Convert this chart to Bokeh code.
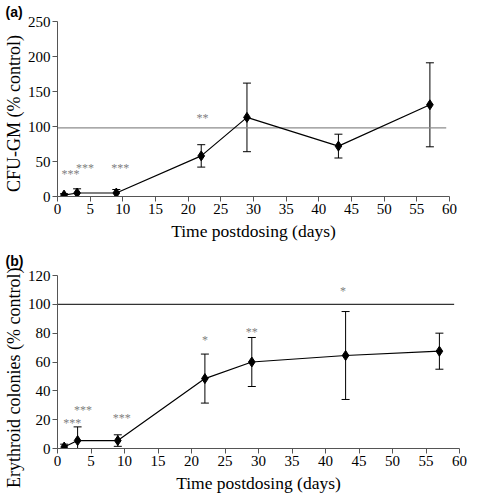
from bokeh.plotting import figure
from bokeh.layouts import column
from bokeh.models import ColumnDataSource, Whisker, TeeHead, Range1d, FixedTicker
from bokeh.embed import file_html
from bokeh.resources import INLINE

# ---- data ----
days = [1, 3, 9, 22, 29, 43, 57]
cfu_mean = [2, 5, 5, 58, 113, 72, 131]
cfu_err = [2, 6, 5, 16, 49, 17, 60]
ery_mean = [1, 5.5, 5.5, 48.5, 60, 64.5, 67.5]
ery_err = [2, 9.5, 4, 17, 17, 30.5, 12.5]

stars_a_x = [2.0, 4.2, 9.6, 22.2]
stars_a_y = [36, 45, 45, 117]
stars_a_txt = ["***", "***", "***", "**"]

stars_b_x = [2.2, 3.8, 9.6, 22.0, 29.0, 42.6]
stars_b_y = [20, 29, 23, 77, 83, 111]
stars_b_txt = ["***", "***", "***", "*", "**", "*"]

control_a_x = [0, 59.5]
control_a_y = [98, 98]
control_b_x = [0, 59.2]
control_b_y = [100, 100]

x_ticks = list(range(0, 61, 5))
ya_ticks = [0, 50, 100, 150, 200, 250]
yb_ticks = [0, 20, 40, 60, 80, 100, 120]

FONT = "Liberation Serif"
NB = "\u00a0"


def style(p, yticks):
    p.xgrid.grid_line_color = None
    p.ygrid.grid_line_color = None
    p.outline_line_color = None
    p.background_fill_color = "white"
    p.border_fill_color = "white"
    p.xaxis.ticker = FixedTicker(ticks=x_ticks)
    p.yaxis.ticker = FixedTicker(ticks=yticks)
    for ax in (p.xaxis, p.yaxis):
        ax.axis_line_color = "#555555"
        ax.major_tick_line_color = "#555555"
        ax.minor_tick_line_color = None
        ax.major_tick_in = 0
        ax.major_tick_out = 5
        ax.major_label_text_font = FONT
        ax.major_label_text_font_size = "15px"
        ax.major_label_text_color = "black"
        ax.axis_label_text_font = FONT
        ax.axis_label_text_font_size = "17.5px"
        ax.axis_label_text_font_style = "normal"
        ax.axis_label_text_color = "black"
        ax.major_label_standoff = 2
        ax.axis_label_standoff = 1


def panel(mean, err, sx, sy, st, cx, cy, cc, yr, yticks, ylabel, tag, tag_standoff,
          xlab_standoff, fw, fh, mt, mb, mr):
    p = figure(frame_width=fw, frame_height=fh, output_backend="svg", toolbar_location=None,
               x_range=Range1d(0, 60), y_range=Range1d(*yr),
               min_border_left=52, min_border_right=mr, min_border_top=mt, min_border_bottom=mb,
               x_axis_label="Time postdosing (days)", y_axis_label=ylabel, title=tag)
    style(p, yticks)
    p.yaxis.axis_label_text_font_size = "18px"
    p.xaxis.axis_label_standoff = xlab_standoff
    p.title.align = "left"
    p.title.offset = -52
    p.title.standoff = tag_standoff
    p.title.text_font = "Liberation Sans"
    p.title.text_font_style = "bold"
    p.title.text_font_size = "14px"
    p.title.text_color = "black"
    p.line(cx, cy, line_color=cc, line_width=1.3)
    src = ColumnDataSource(dict(x=days, y=mean,
                                upper=[m + e for m, e in zip(mean, err)],
                                lower=[m - e for m, e in zip(mean, err)]))
    w = Whisker(source=src, base="x", upper="upper", lower="lower", dimension="height",
                line_color="black", line_width=1,
                upper_head=TeeHead(size=8, line_color="black", line_width=1),
                lower_head=TeeHead(size=8, line_color="black", line_width=1))
    p.add_layout(w)
    p.line("x", "y", source=src, line_color="black", line_width=1.2)
    p.scatter("x", "y", source=src, marker="diamond", size=10, color="black")
    ssrc = ColumnDataSource(dict(x=sx, y=sy, t=st))
    p.text("x", "y", text="t", source=ssrc, text_font={"value": FONT}, text_font_size="12px",
           text_color="#808080", text_align="center", text_baseline="middle", y_offset=3)
    return p


pa = panel(cfu_mean, cfu_err, stars_a_x, stars_a_y, stars_a_txt,
           control_a_x, control_a_y, "#8c8c8c", (0, 250), ya_ticks,
           "CFU-GM (% control)" + NB * 2, "(a)", 3, 4, 392, 175, 21, 42, 18)
pb = panel(ery_mean, ery_err, stars_b_x, stars_b_y, stars_b_txt,
           control_b_x, control_b_y, "#333333", (0, 120), yb_ticks,
           "Erythroid colonies (% control)" + NB * 7, "(b)", 13, 4, 402, 173, 32, 40, 8)

layout = column(pa, pb, spacing=0)
open("out.html", "w").write(file_html(layout, INLINE))
